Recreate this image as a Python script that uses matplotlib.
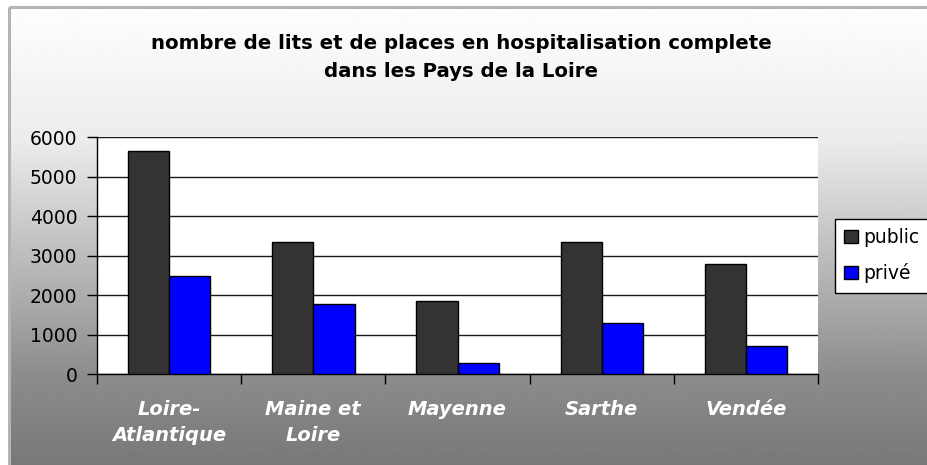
import numpy as np
import matplotlib
matplotlib.use("Agg")
import matplotlib.pyplot as plt
from matplotlib.patches import Rectangle, Patch

# Data
departements = ["Loire-\nAtlantique", "Maine et\nLoire", "Mayenne", "Sarthe", "Vendée"]
public = [5650, 3340, 1850, 3340, 2790]
prive = [2490, 1770, 290, 1300, 720]
y_ticks = [0, 1000, 2000, 3000, 4000, 5000, 6000]
title = "nombre de lits et de places en hospitalisation complete\ndans les Pays de la Loire"

plt.rcParams["font.family"] = ["DejaVu Sans"]

W, H = 927, 465
fig = plt.figure(figsize=(W / 100, H / 100), dpi=100, facecolor="white")

# Chart-area background: vertical gradient, light at top, grey at bottom
bg = fig.add_axes([0, 0, 1, 1], zorder=0)
bg.set_xlim(0, W)
bg.set_ylim(H, 0)
bg.axis("off")
rows = np.arange(H)
stops_y = [7, 135, 375, 465]
stops_v = [253, 236, 140, 120]
vals = np.interp(rows, stops_y, stops_v) / 255.0
grad = np.repeat(vals[:, None], 2, axis=1)
bg.imshow(grad, cmap="gray", vmin=0, vmax=1, aspect="auto",
          extent=[9, W, H, 7], interpolation="bilinear")
bg.add_patch(Rectangle((9, 7), W + 10, H + 10, fill=False,
                       edgecolor="#b4b4b4", linewidth=2.2))

# Plot area
left, right, top, bottom = 97, 818, 137, 374
ax = fig.add_axes([left / W, 1 - bottom / H, (right - left) / W, (bottom - top) / H],
                  zorder=2)
ax.set_facecolor("white")

x = np.arange(len(departements))
bw = 1 / 3.5
ax.bar(x - bw / 2, public, bw, color="#333333", edgecolor="black", linewidth=1,
       zorder=3, label="public")
ax.bar(x + bw / 2, prive, bw, color="#0000ff", edgecolor="black", linewidth=1,
       zorder=3, label="privé")

ax.set_xlim(-0.5, len(departements) - 0.5)
ax.set_ylim(0, 6000)
ax.set_yticks(y_ticks)
ax.set_yticklabels([str(v) for v in y_ticks], fontsize=13.5)
ax.yaxis.grid(True, color="#1a1a1a", linewidth=1)
ax.set_axisbelow(True)

ax.set_xticks(x)
ax.set_xticklabels(departements, fontsize=14, color="white",
                   fontweight="bold", fontstyle="italic", linespacing=1.45)
ax.set_xticks(np.arange(-0.5, len(departements)), minor=True)
ax.tick_params(axis="x", which="major", length=0, pad=19)
ax.tick_params(axis="x", which="minor", length=7, width=1, direction="out")
ax.tick_params(axis="y", length=7, width=1, direction="out", pad=7)

for s in ("top", "right"):
    ax.spines[s].set_visible(False)
for s in ("left", "bottom"):
    ax.spines[s].set_color("black")
    ax.spines[s].set_linewidth(1)

fig.text(461 / W, 1 - 57.5 / H, title, ha="center", va="center",
         fontsize=14.2, fontweight="bold", linespacing=1.6, zorder=3)

handles = [Patch(facecolor="#333333", edgecolor="black", label="public"),
           Patch(facecolor="#0000ff", edgecolor="black", label="privé")]
leg = fig.legend(handles=handles, loc="upper left",
                 bbox_to_anchor=(835 / W, 1 - 219 / H), fontsize=13.5,
                 frameon=True, fancybox=False, framealpha=1, borderpad=0.5,
                 handlelength=0.7, handleheight=0.7, handletextpad=0.3,
                 labelspacing=0.85, borderaxespad=0)
leg.get_frame().set_edgecolor("black")
leg.get_frame().set_linewidth(1)
leg.get_frame().set_facecolor("white")
leg.set_zorder(5)

fig.savefig("out.png", dpi=100, facecolor=fig.get_facecolor())
